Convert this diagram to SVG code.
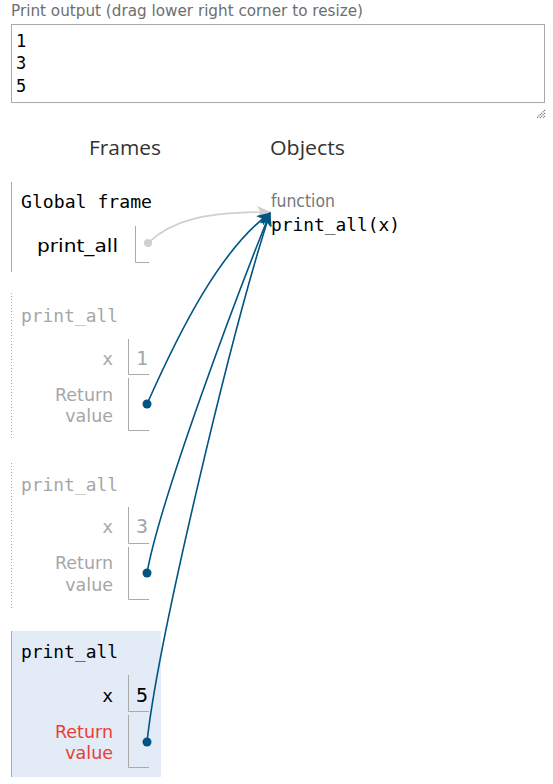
<svg xmlns="http://www.w3.org/2000/svg" width="553" height="784" viewBox="0 0 553 784">
<style>
.hdr{font-family:"DejaVu Sans","Liberation Sans",sans-serif;font-size:15px;fill:#6e6e6e}
.out{font-family:"DejaVu Sans Mono","Liberation Mono",monospace;font-size:17px;fill:#000}
.col{font-family:"Open Sans","DejaVu Sans",sans-serif;font-size:20px;fill:#333}
.mono{font-family:"DejaVu Sans Mono","Liberation Mono",monospace;font-size:18px}
.num{font-family:"DejaVu Sans Mono","Liberation Mono",monospace;font-size:20px}
.sans{font-family:"DejaVu Sans","Liberation Sans",sans-serif;font-size:17.5px}
.dim{fill:#a6a6a6}
.blk{fill:#000}
.red{fill:#e93f34}
.box{fill:none;stroke:#aaa;stroke-width:1}
.blue{fill:none;stroke:#005583;stroke-width:1.6}
.gray{fill:none;stroke:#cfcfcf;stroke-width:1.6}
</style>
<defs>
<marker id="ab" viewBox="0 0 14 12" refX="13" refY="6" markerWidth="14" markerHeight="12" markerUnits="userSpaceOnUse" orient="auto">
<path d="M0,0 L14,6 L0,12 L3.5,6 z" fill="#005583"/>
</marker>
<marker id="ag" viewBox="0 0 14 12" refX="13" refY="6" markerWidth="14" markerHeight="12" markerUnits="userSpaceOnUse" orient="auto">
<path d="M0,0 L14,6 L0,12 L3.5,6 z" fill="#cfcfcf"/>
</marker>
</defs>
<rect width="553" height="784" fill="#fff"/>

<g id="print-output">
<text class="hdr" x="11" y="16" textLength="352" lengthAdjust="spacingAndGlyphs">Print output (drag lower right corner to resize)</text>
<rect x="11.5" y="24.5" width="533" height="78" fill="#fff" stroke="#a9a9a9"/>
<text class="out" x="16" y="47">1</text>
<text class="out" x="16" y="69">3</text>
<text class="out" x="16" y="92">5</text>
<g stroke="#777" stroke-width="1.2" stroke-dasharray="1.2,0.8">
<line x1="545" y1="110" x2="537" y2="118"/>
<line x1="545" y1="113" x2="540" y2="118"/>
<line x1="545" y1="116" x2="543" y2="118"/>
</g>
</g>

<g id="headers">
<text class="col" x="89" y="155" textLength="72" lengthAdjust="spacingAndGlyphs">Frames</text>
<text class="col" x="270" y="155" textLength="75" lengthAdjust="spacingAndGlyphs">Objects</text>
</g>

<g id="global-frame">
<line x1="11.5" y1="182" x2="11.5" y2="272" stroke="#aaa"/>
<text class="mono blk" x="21" y="208" textLength="131" lengthAdjust="spacingAndGlyphs">Global frame</text>
<text class="sans blk" x="37" y="252" font-size="19" textLength="81" lengthAdjust="spacingAndGlyphs">print_all</text>
<path class="box" d="M135.5,226 V262.5 H149"/>
</g>

<g id="function-object">
<text class="sans" x="271" y="207" font-size="15.5" fill="#777" textLength="64" lengthAdjust="spacingAndGlyphs">function</text>
<text class="mono blk" x="271" y="231" textLength="129" lengthAdjust="spacingAndGlyphs">print_all(x)</text>
</g>

<g id="frame-1">
<line x1="11.5" y1="293" x2="11.5" y2="440" stroke="#aaa" stroke-dasharray="1,2"/>
<text class="mono dim" x="21" y="322" textLength="97" lengthAdjust="spacingAndGlyphs">print_all</text>
<text class="mono dim" x="113" y="365" text-anchor="end">x</text>
<path class="box" d="M128.5,339 V374.5 H149"/>
<text class="num dim" x="136" y="365">1</text>
<text class="sans dim" x="113" y="401" text-anchor="end">Return</text>
<text class="sans dim" x="113" y="422" text-anchor="end">value</text>
<path class="box" d="M128.5,378 V430.5 H149"/>
</g>

<g id="frame-2">
<line x1="11.5" y1="463" x2="11.5" y2="608" stroke="#aaa" stroke-dasharray="1,2"/>
<text class="mono dim" x="21" y="491" textLength="97" lengthAdjust="spacingAndGlyphs">print_all</text>
<text class="mono dim" x="113" y="533" text-anchor="end">x</text>
<path class="box" d="M128.5,507 V543.5 H149"/>
<text class="num dim" x="136" y="533">3</text>
<text class="sans dim" x="113" y="569" text-anchor="end">Return</text>
<text class="sans dim" x="113" y="591" text-anchor="end">value</text>
<path class="box" d="M128.5,547 V599.5 H149"/>
</g>

<g id="frame-3">
<rect x="11" y="631" width="150" height="146" fill="#e2ebf6"/>
<line x1="11.5" y1="631" x2="11.5" y2="777" stroke="#aaa"/>
<text class="mono blk" x="21" y="658" textLength="97" lengthAdjust="spacingAndGlyphs">print_all</text>
<text class="mono blk" x="113" y="702" text-anchor="end">x</text>
<path class="box" d="M128.5,675 V711.5 H149"/>
<text class="num blk" x="136" y="702">5</text>
<text class="sans red" x="113" y="738" text-anchor="end">Return</text>
<text class="sans red" x="113" y="759" text-anchor="end">value</text>
<path class="box" d="M128.5,715 V767.5 H149"/>
</g>

<g id="connectors">
<path class="gray" d="M148,243 C172,220 205,212 270,212" marker-end="url(#ag)"/>
<circle cx="148" cy="243" r="4" fill="#cfcfcf"/>
<path class="blue" d="M147,404 C180,330 220,250 270,213" marker-end="url(#ab)"/>
<circle cx="147" cy="404" r="4.5" fill="#005583"/>
<path class="blue" d="M147,573 C160,500 235,300 270,213" marker-end="url(#ab)"/>
<circle cx="147" cy="573" r="4.5" fill="#005583"/>
<path class="blue" d="M147,742 C158,640 232,330 270,213" marker-end="url(#ab)"/>
<circle cx="147" cy="742" r="4.5" fill="#005583"/>
</g>
</svg>
